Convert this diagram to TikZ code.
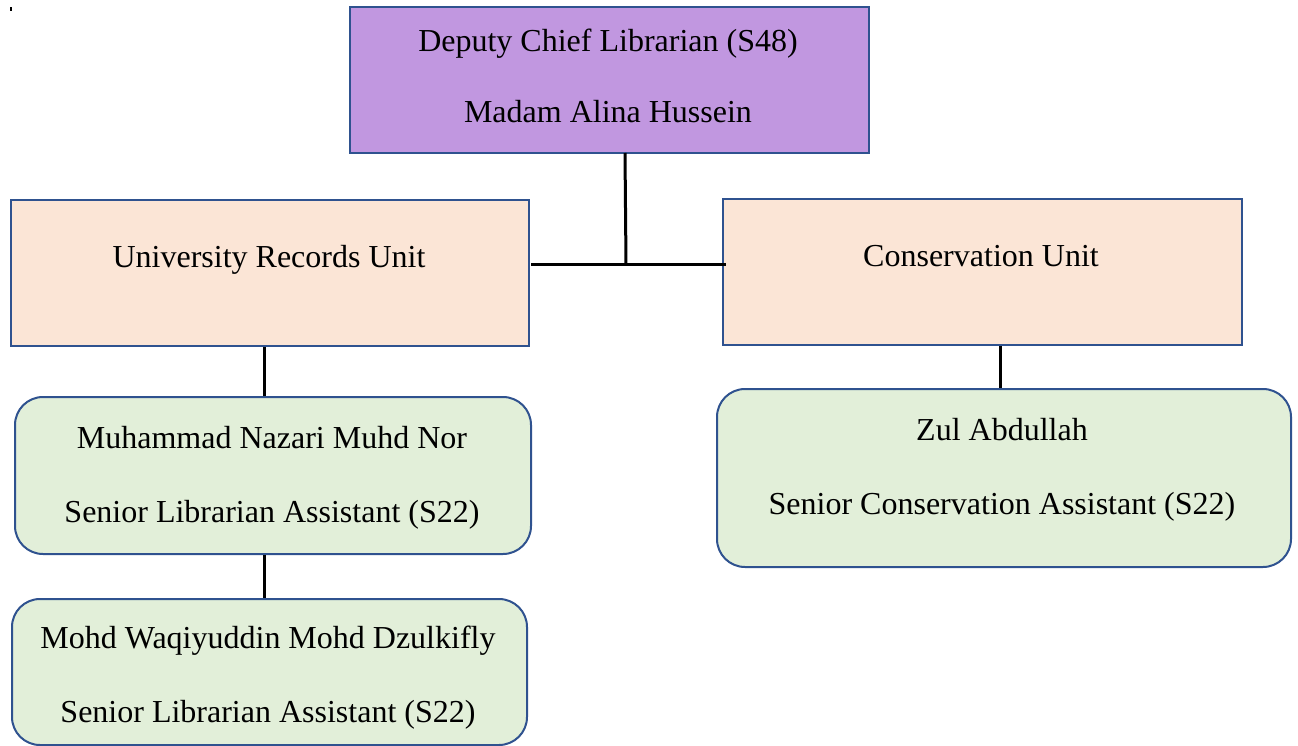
\documentclass[tikz,border=0pt]{standalone}
\usepackage{fontspec}
\setmainfont{Liberation Serif}
\definecolor{bord}{HTML}{2F528F}
\definecolor{purp}{HTML}{C197E0}
\definecolor{peach}{HTML}{FBE5D6}
\definecolor{mint}{HTML}{E2EFD9}
\begin{document}
\begin{tikzpicture}[x=1pt,y=-1pt,
  sqbox/.style={draw=bord,line width=2pt,inner sep=0pt,anchor=north west},
  rbox/.style={sqbox,rounded corners=28pt},
  lbl/.style={font=\fontsize{32}{38}\selectfont,inner sep=0pt,anchor=base},
  conn/.style={line width=3pt,black}]
\useasboundingbox (0,0) rectangle (1298,746);
\fill[black] (10,7) rectangle (11.5,11);
% boxes
\node[sqbox,fill=purp,minimum width=519pt,minimum height=146pt] (top) at (349,6) {};
\node[sqbox,fill=peach,minimum width=518pt,minimum height=146pt] (ur) at (10,199) {};
\node[sqbox,fill=peach,minimum width=519pt,minimum height=146pt] (cu) at (722,198) {};
\node[rbox,fill=mint,minimum width=516pt,minimum height=157pt] (mn) at (14,396) {};
\node[rbox,fill=mint,minimum width=515pt,minimum height=146pt] (mw) at (11,598) {};
\node[rbox,fill=mint,minimum width=574pt,minimum height=178pt] (za) at (716,388) {};
% texts
\node[lbl] (t1) at (608,52) {Deputy Chief Librarian (S48)};
\node[lbl] (t2) at (608,123) {Madam Alina Hussein};
\node[lbl] (t3) at (269,267) {University Records Unit};
\node[lbl] (t4) at (981,266) {Conservation Unit};
\node[lbl] (t5) at (272,448) {Muhammad Nazari Muhd Nor};
\node[lbl] (t6) at (272,522) {Senior Librarian Assistant (S22)};
\node[lbl] (t7) at (268,648) {Mohd Waqiyuddin Mohd Dzulkifly};
\node[lbl] (t8) at (268,722) {Senior Librarian Assistant (S22)};
\node[lbl] (t9) at (1002,440) {Zul Abdullah};
\node[lbl] (t10) at (1002,514) {Senior Conservation Assistant (S22)};
% connectors
\coordinate (jt) at (625,153);
\coordinate (jm) at (626,264);
\coordinate (jl) at (531,264);
\coordinate (jr) at (726,264);
\draw[conn] (jt) -- (jm);
\draw[conn] (jl) -- (jr);
\draw[conn] (ur.south -| 264,0) -- (mn.north -| 264,0);
\draw[conn] (mn.south -| 264,0) -- (mw.north -| 264,0);
\draw[conn] (cu.south -| 1000,0) -- (za.north -| 1000,0);
\end{tikzpicture}
\end{document}
